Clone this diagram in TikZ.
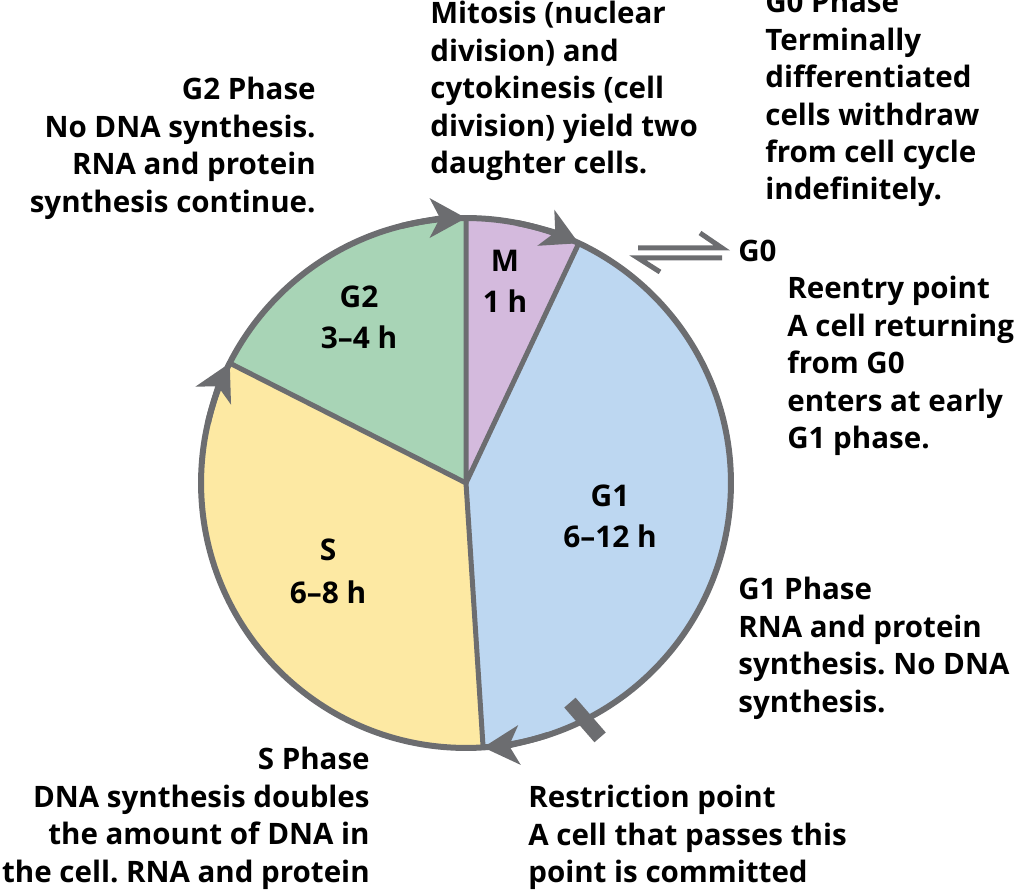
\documentclass[tikz,border=0pt]{standalone}
\usepackage{fontspec}
\setmainfont{Open Sans}
\frenchspacing
\usetikzlibrary{arrows.meta}
\definecolor{mcol}{RGB}{212,186,221}
\definecolor{gtwocol}{RGB}{168,212,182}
\definecolor{scol}{RGB}{253,233,163}
\definecolor{gonecol}{RGB}{189,215,241}
\definecolor{rim}{RGB}{108,109,112}
\tikzset{
  txt/.style={inner sep=0pt, font=\bfseries\fontsize{16.8}{21.3}\selectfont, execute at begin node=\strut},
  seg/.style={inner sep=0pt, align=center, anchor=north, font=\bfseries\fontsize{17}{23.3}\selectfont, execute at begin node=\strut},
  rimline/.style={draw=rim, line width=0.12cm},
  divline/.style={draw=rim, line width=0.1cm, line cap=round, line join=round},
  cyctip/.style={draw=rim, line width=0.12cm, -{Stealth[length=0.72cm,width=0.78cm,inset=0.2cm,fill=rim]}},
  harp/.style={draw=rim, line width=0.1cm}
}
\begin{document}
\begin{tikzpicture}[x=0.02cm,y=0.02cm]
\useasboundingbox (0,0) rectangle (1024,892);
\coordinate (C) at (466,409);
\coordinate (jTop) at ([shift={(90:5.3cm)}]C);
\coordinate (jMG) at ([shift={(64.8:5.3cm)}]C);
\coordinate (jGS) at ([shift={(153.1:5.3cm)}]C);
\coordinate (jSG) at ([shift={(-86.3:5.3cm)}]C);
% sectors
\fill[mcol] (C) -- (jMG) arc[start angle=64.8,end angle=90,radius=5.3cm] -- cycle;
\fill[gtwocol] (C) -- (jTop) arc[start angle=90,end angle=153.1,radius=5.3cm] -- cycle;
\fill[scol] (C) -- (jGS) arc[start angle=153.1,end angle=273.7,radius=5.3cm] -- cycle;
\fill[gonecol] (C) -- (jSG) arc[start angle=-86.3,end angle=64.8,radius=5.3cm] -- cycle;
% dividers
\draw[divline] (jTop) -- (C) -- (jMG);
\draw[divline] (jGS) -- (C) -- (jSG);
% rim
\draw[rimline] (C) circle[radius=5.3cm];
% direction arrowheads
\draw[cyctip] ([shift={(104:5.3cm)}]C) arc[start angle=104,end angle=90,radius=5.3cm];
\draw[cyctip] ([shift={(79:5.3cm)}]C) arc[start angle=79,end angle=64.8,radius=5.3cm];
\draw[cyctip] ([shift={(167:5.3cm)}]C) arc[start angle=167,end angle=153.1,radius=5.3cm];
\draw[cyctip] ([shift={(-72:5.3cm)}]C) arc[start angle=-72,end angle=-86.3,radius=5.3cm];
% restriction point bar
\coordinate (R) at (585,172);
\draw[rim, line width=0.3cm] ([shift={(-49:-0.46cm)}]R) -- ([shift={(-49:0.46cm)}]R);
% G0 harpoons
\coordinate (hA) at (638,644);
\coordinate (hB) at (722,644);
\coordinate (hC) at (638,634);
\coordinate (hD) at (722,634);
\draw[harp, line join=miter] (hA) -- (hB) -- ++(-22,15);
\draw[harp, line join=miter] (hD) -- (hC) -- ++(22,-14);
% segment labels
\node[seg] (Mlab) at (505,642) {M\\1 h};
\node[seg] (G2lab) at (359,606) {G2\\3--4 h};
\node[seg, font=\bfseries\fontsize{17}{24}\selectfont] (Slab) at (328,353) {S\\6--8 h};
\node[seg] (G1lab) at (610,407) {G1\\6--12 h};
% text blocks
\node[txt, anchor=north east, align=right] (G2txt) at (316,815) {G2 Phase\\No DNA synthesis.\\RNA and protein\\synthesis continue.};
\node[txt, anchor=north west, align=left] (Mtxt) at (430,891) {Mitosis (nuclear\\division) and\\cytokinesis (cell\\division) yield two\\daughter cells.};
\node[txt, anchor=north west, align=left] (G0txt) at (765,902) {G0 Phase\\Terminally\\differentiated\\cells withdraw\\from cell cycle\\indefinitely.};
\node[inner sep=0pt, font=\bfseries\fontsize{16.8}{21.3}\selectfont, anchor=base west] (G0lab) at (738,630) {G0};
\node[txt, anchor=north west, align=left] (Retxt) at (787,616) {Reentry point\\A cell returning\\from G0\\enters at early\\G1 phase.};
\node[txt, anchor=north west, align=left] (G1txt) at (738,315) {G1 Phase\\RNA and protein\\synthesis. No DNA\\synthesis.};
\node[txt, anchor=north east, align=right] (Stxt) at (370,145) {S Phase\\DNA synthesis doubles\\the amount of DNA in\\the cell. RNA and protein};
\node[txt, anchor=north west, align=left] (Rtxt) at (528,107) {Restriction point\\A cell that passes this\\point is committed};
\end{tikzpicture}
\end{document}
